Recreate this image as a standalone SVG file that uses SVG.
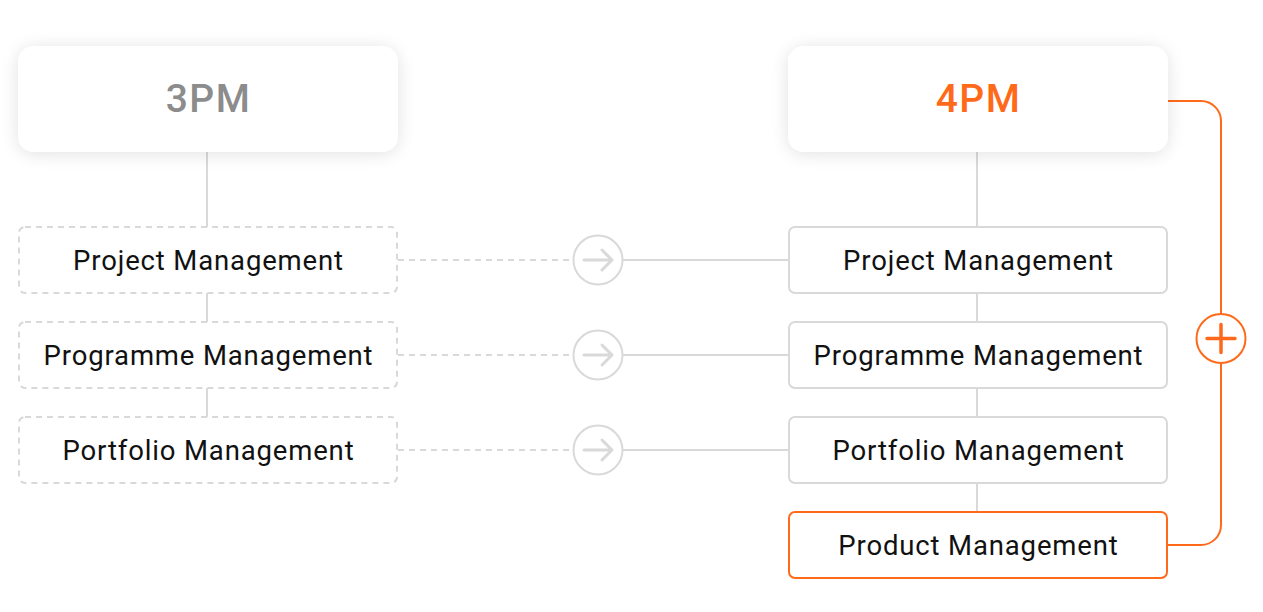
<svg xmlns="http://www.w3.org/2000/svg" width="1263" height="612" viewBox="0 0 1263 612">
<defs>
<filter id="sh" x="-20%" y="-40%" width="140%" height="180%">
<feGaussianBlur in="SourceAlpha" stdDeviation="9"/>
<feOffset dy="2"/>
<feComponentTransfer><feFuncA type="linear" slope="0.12"/></feComponentTransfer>
<feMerge><feMergeNode/><feMergeNode in="SourceGraphic"/></feMerge>
</filter>
</defs>
<style>
.lbl{font-family:Roboto,"Liberation Sans",sans-serif;font-size:27.5px;letter-spacing:0.85px;fill:#111;text-anchor:middle;dominant-baseline:central}
.hdr{font-family:Roboto,"Liberation Sans",sans-serif;font-size:39px;letter-spacing:1.5px;font-weight:500;text-anchor:middle;dominant-baseline:central}
.old{fill:#fff;stroke:#d9d9d9;stroke-width:2;stroke-dasharray:6 5}
.new{fill:#fff;stroke:#d9d9d9;stroke-width:2}
.line{stroke:#d9d9d9;stroke-width:2;fill:none}
.dash{stroke:#d9d9d9;stroke-width:2;fill:none;stroke-dasharray:6 5}
.or{stroke:#ff6a1a;stroke-width:2;fill:none}
</style>
<rect width="1263" height="612" fill="#fff"/>
<g id="connectors">
<line class="line" x1="207" y1="152" x2="207" y2="227"/>
<line class="line" x1="207" y1="293" x2="207" y2="322"/>
<line class="line" x1="207" y1="388" x2="207" y2="417"/>
<line class="line" x1="977" y1="152" x2="977" y2="227"/>
<line class="line" x1="977" y1="293" x2="977" y2="322"/>
<line class="line" x1="977" y1="388" x2="977" y2="417"/>
<line class="line" x1="977" y1="483" x2="977" y2="512"/>
<line class="dash" x1="398" y1="260" x2="573" y2="260"/>
<line class="dash" x1="398" y1="355" x2="573" y2="355"/>
<line class="dash" x1="398" y1="450" x2="573" y2="450"/>
<line class="line" x1="623" y1="260" x2="789" y2="260"/>
<line class="line" x1="623" y1="355" x2="789" y2="355"/>
<line class="line" x1="623" y1="450" x2="789" y2="450"/>
<g id="arrow1"><circle class="line" cx="598" cy="260" r="24.5"/><path d="M584 260H612M602 250L612 260L602 270" stroke="#d9d9d9" stroke-width="3" fill="none" stroke-linecap="round" stroke-linejoin="round"/></g>
<g id="arrow2"><circle class="line" cx="598" cy="355" r="24.5"/><path d="M584 355H612M602 345L612 355L602 365" stroke="#d9d9d9" stroke-width="3" fill="none" stroke-linecap="round" stroke-linejoin="round"/></g>
<g id="arrow3"><circle class="line" cx="598" cy="450" r="24.5"/><path d="M584 450H612M602 440L612 450L602 460" stroke="#d9d9d9" stroke-width="3" fill="none" stroke-linecap="round" stroke-linejoin="round"/></g>
<path class="or" d="M1168 101H1201A20 20 0 0 1 1221 121V314M1221 363V525A20 20 0 0 1 1201 545H1168"/>
<g id="plus"><circle class="or" cx="1221" cy="338.5" r="24.5"/><path d="M1207 338.5H1235M1221 324.5V352.5" stroke="#ff6a1a" stroke-width="3.5" stroke-linecap="round"/></g>
</g>
<g id="n3pm"><rect x="18" y="46" width="380" height="106" rx="16" fill="#fff" filter="url(#sh)"/><text class="hdr" x="208.5" y="99" fill="#8c8c8c">3PM</text></g>
<g id="n4pm"><rect x="788" y="46" width="380" height="106" rx="16" fill="#fff" filter="url(#sh)"/><text class="hdr" x="978.5" y="99" fill="#ff6a1a">4PM</text></g>
<g id="oldProject"><rect class="old" x="19" y="227" width="378" height="66" rx="6"/><text class="lbl" x="208.5" y="260">Project Management</text></g>
<g id="oldProgramme"><rect class="old" x="19" y="322" width="378" height="66" rx="6"/><text class="lbl" x="208.5" y="355">Programme Management</text></g>
<g id="oldPortfolio"><rect class="old" x="19" y="417" width="378" height="66" rx="6"/><text class="lbl" x="208.5" y="450">Portfolio Management</text></g>
<g id="newProject"><rect class="new" x="789" y="227" width="378" height="66" rx="6"/><text class="lbl" x="978.5" y="260">Project Management</text></g>
<g id="newProgramme"><rect class="new" x="789" y="322" width="378" height="66" rx="6"/><text class="lbl" x="978.5" y="355">Programme Management</text></g>
<g id="newPortfolio"><rect class="new" x="789" y="417" width="378" height="66" rx="6"/><text class="lbl" x="978.5" y="450">Portfolio Management</text></g>
<g id="newProduct"><rect x="789" y="512" width="378" height="66" rx="6" fill="#fff" stroke="#ff6a1a" stroke-width="2"/><text class="lbl" x="978.5" y="545">Product Management</text></g>
</svg>
